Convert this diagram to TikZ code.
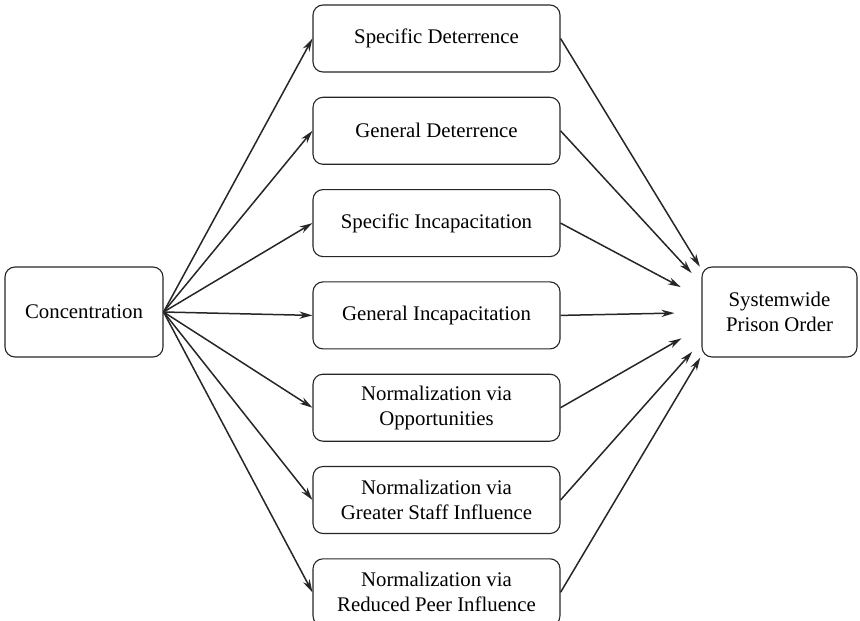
\documentclass[tikz,border=0pt]{standalone}
\usepackage{fontspec}
\setmainfont{Liberation Serif}
\usepackage{tikz}
\usetikzlibrary{positioning, arrows.meta}

\begin{document}
\begin{tikzpicture}[
    x=0.5pt, y=-0.5pt,
    node distance=12.1pt and 1cm,
    >={Stealth[length=6.5pt, width=3.6pt, inset=2pt]},
    endbox/.style={rectangle, draw=black!85, line width=0.55pt, rounded corners=5pt,
                   minimum width=79pt, minimum height=45pt, align=center,
                   font=\fontsize{10.4}{12.5}\selectfont},
    mech/.style={rectangle, draw=black!85, line width=0.55pt, rounded corners=5pt,
                 minimum width=123.5pt, minimum height=33.5pt, align=center,
                 font=\fontsize{10.4}{12.5}\selectfont},
    arrow/.style={->, line width=0.75pt, black!85},
]
\useasboundingbox (0,0) rectangle (860,620);

% Source and outcome
\node[endbox] (conc) at (84,312) {Concentration};
\node[endbox, minimum width=77.5pt] (order) at (779.5,312) {Systemwide\\Prison Order};

% Mechanisms, top to bottom
\node[mech] (m1) at (436.5,38.5) {Specific Deterrence};
\node[mech, below=of m1] (m2) {General Deterrence};
\node[mech, below=of m2] (m3) {Specific Incapacitation};
\node[mech, below=of m3] (m4) {General Incapacitation};
\node[mech, below=of m4] (m5) {Normalization via\\Opportunities};
\node[mech, below=of m5] (m6) {Normalization via\\Greater Staff Influence};
\node[mech, below=of m6] (m7) {Normalization via\\Reduced Peer Influence};

% Arrows converge on a point inside the outcome box
\coordinate (hub) at ([xshift=13pt]order.west);

\foreach \m in {m1,m2,m3,m4,m5,m6,m7} {
    \draw[arrow] (conc.east) -- (\m.west);
    \draw[arrow, shorten >=26.5pt] (\m.east) -- (hub);
}

\end{tikzpicture}
\end{document}
